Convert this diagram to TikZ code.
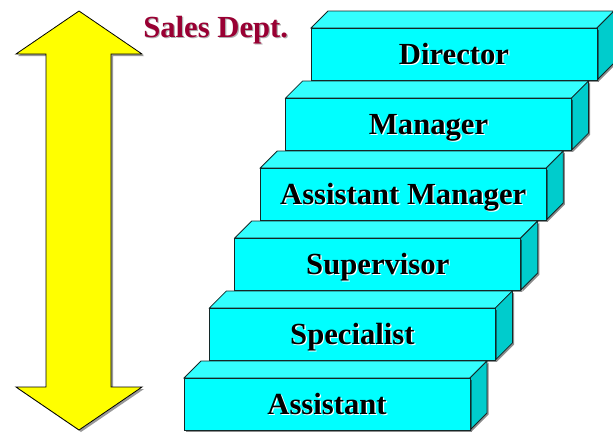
\documentclass[tikz,border=0pt]{standalone}
\usepackage{fontspec}
\setmainfont{Liberation Serif}
\usepackage{tikz}
\usetikzlibrary{shadows}
\usepackage{xcolor}

\newcommand\shadowtxt[2]{\makebox[0pt][l]{\kern0.9pt\raisebox{-0.9pt}{\textcolor{#1}{#2}}}#2}

\begin{document}
\begin{tikzpicture}[x=0.75pt,y=0.75pt,yscale=-1,xscale=1,
  stepfront/.style={draw={rgb, 255:red, 20; green, 40; blue, 40 },line width=0.6,fill={rgb, 255:red, 0; green, 255; blue, 255 }},
  steptop/.style={draw={rgb, 255:red, 20; green, 40; blue, 40 },line width=0.6,fill={rgb, 255:red, 51; green, 255; blue, 255 }},
  stepside/.style={draw={rgb, 255:red, 20; green, 40; blue, 40 },line width=0.6,fill={rgb, 255:red, 0; green, 204; blue, 204 }},
  steplabel/.style={anchor=base,inner sep=0.75pt,font=\fontsize{23}{27}\selectfont\bfseries},
  stepshadow/.style={drop shadow={shadow xshift=1.2pt,shadow yshift=-1.2pt,fill=black,opacity=0.45}}]
\useasboundingbox (0,0) rectangle (613,439);

%Shape: Double Arrow [id:rank]
\draw [fill={rgb, 255:red, 255; green, 255; blue, 0 },line width=0.6,drop shadow={shadow xshift=1.5pt,shadow yshift=-1.5pt,fill=black,opacity=0.4}]
  (79,11) -- (142,54) -- (111,54) -- (111,387) -- (142,387) -- (79,430) -- (16,387) -- (46,387) -- (46,54) -- (16,54) -- cycle ;

%Shape: Cube [id:director]
\draw [steptop] (311,28) -- (328,11) -- (614,11) -- (597,28) -- cycle ;
\draw [stepside,stepshadow] (597,28) -- (614,11) -- (614,63) -- (597,80) -- cycle ;
\draw [stepfront,stepshadow] (311,28) rectangle (597,80) ;
%Shape: Cube [id:manager]
\draw [steptop] (285.6,98) -- (302.6,81) -- (588.6,81) -- (571.6,98) -- cycle ;
\draw [stepside,stepshadow] (571.6,98) -- (588.6,81) -- (588.6,133) -- (571.6,150) -- cycle ;
\draw [stepfront,stepshadow] (285.6,98) rectangle (571.6,150) ;
%Shape: Cube [id:asstmgr]
\draw [steptop] (260.2,168) -- (277.2,151) -- (563.2,151) -- (546.2,168) -- cycle ;
\draw [stepside,stepshadow] (546.2,168) -- (563.2,151) -- (563.2,203) -- (546.2,220) -- cycle ;
\draw [stepfront,stepshadow] (260.2,168) rectangle (546.2,220) ;
%Shape: Cube [id:supervisor]
\draw [steptop] (234.8,238) -- (251.8,221) -- (537.8,221) -- (520.8,238) -- cycle ;
\draw [stepside,stepshadow] (520.8,238) -- (537.8,221) -- (537.8,273) -- (520.8,290) -- cycle ;
\draw [stepfront,stepshadow] (234.8,238) rectangle (520.8,290) ;
%Shape: Cube [id:specialist]
\draw [steptop] (209.4,308) -- (226.4,291) -- (512.4,291) -- (495.4,308) -- cycle ;
\draw [stepside,stepshadow] (495.4,308) -- (512.4,291) -- (512.4,343) -- (495.4,360) -- cycle ;
\draw [stepfront,stepshadow] (209.4,308) rectangle (495.4,360) ;
%Shape: Cube [id:assistant]
\draw [steptop] (184,378) -- (201,361) -- (487,361) -- (470,378) -- cycle ;
\draw [stepside,stepshadow] (470,378) -- (487,361) -- (487,413) -- (470,430) -- cycle ;
\draw [stepfront,stepshadow] (184,378) rectangle (470,430) ;

% Text Node
\node (salesdept) at (143,37) [anchor=base west,inner sep=0pt,font=\fontsize{23}{27}\selectfont\bfseries,color={rgb, 255:red, 153; green, 0; blue, 51 }] {\shadowtxt{gray!60}{Sales Dept.}};
% Text Node
\node (director) at (454,64) [steplabel] {\shadowtxt{white}{Director}};
% Text Node
\node (manager) at (428.6,134) [steplabel] {\shadowtxt{white}{Manager}};
% Text Node
\node (asstmgr) at (403.2,204) [steplabel] {\shadowtxt{white}{Assistant Manager}};
% Text Node
\node (supervisor) at (377.8,274) [steplabel] {\shadowtxt{white}{Supervisor}};
% Text Node
\node (specialist) at (352.4,344) [steplabel] {\shadowtxt{white}{Specialist}};
% Text Node
\node (assistant) at (327,414) [steplabel] {\shadowtxt{white}{Assistant}};

\end{tikzpicture}
\end{document}
